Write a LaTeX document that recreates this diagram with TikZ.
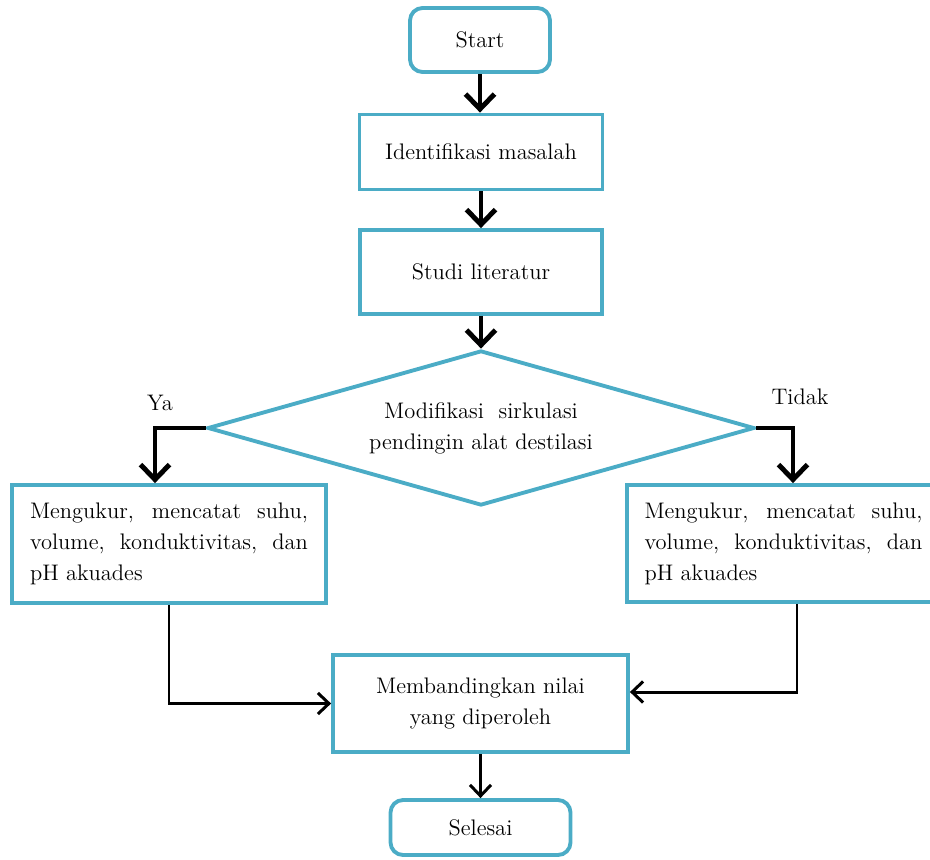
\documentclass[tikz,border=0pt]{standalone}
\usepackage{tikz}
\usetikzlibrary{positioning}
\usetikzlibrary{shapes.geometric}
\usetikzlibrary{arrows.meta}
\definecolor{boxblue}{RGB}{75,172,198}

\begin{document}
\begin{tikzpicture}[x=0.02cm, y=-0.02cm,
	every node/.style={font=\fontsize{12.8}{17.6}\selectfont},
	procbox/.style={rectangle, draw=boxblue, line width=2.2pt, fill=white, align=center},
	endbox/.style={procbox, rounded corners=0.25cm},
	bigarrow/.style={line width=2.8pt, -{Straight Barb[length=0.3cm, width=0.58cm]}},
	smallarrow/.style={line width=1.7pt, -{Straight Barb[length=0.22cm, width=0.42cm]}}]
	\useasboundingbox (0,0) rectangle (930,859);

	\node[endbox, minimum width=2.8cm, minimum height=1.28cm](start) at (480,40){Start};
	\node[procbox, minimum width=4.86cm, minimum height=1.5cm](ident) at (481,152){Identifikasi masalah};
	\node[procbox, minimum width=4.84cm, minimum height=1.68cm](studi) at (481,272){Studi literatur};
	\node[diamond, aspect=3.53, draw=boxblue, line width=2.2pt, inner sep=0pt, align=center, minimum width=10.94cm, minimum height=3.1cm](modif) at (481,428){Modifikasi~~sirkulasi\\pendingin alat destilasi};

	\node[procbox, align=justify, text width=5.56cm, minimum width=6.28cm, minimum height=2.36cm](ukurYa) at (169,544){Mengukur, mencatat suhu, volume, konduktivitas, dan pH akuades};
	\node[procbox, align=justify, text width=5.56cm, minimum width=6.26cm, minimum height=2.34cm](ukurTidak) at (783.5,543.5){Mengukur, mencatat suhu, volume, konduktivitas, dan pH akuades};

	\node[procbox, minimum width=5.9cm, minimum height=1.94cm](banding) at (480.5,703.5){Membandingkan nilai\\yang diperoleh};
	\node[endbox, minimum width=3.6cm, minimum height=1.1cm](selesai) at (480.5,827.5){Selesai};

	\node(ya) at (160,403){Ya};
	\node(tidak) at (800,397){Tidak};

	\draw[bigarrow] (start) -- (start |- ident.north);
	\draw[bigarrow] (ident) -- (studi);
	\draw[bigarrow] (studi) -- (modif);
	\draw[bigarrow] (modif.west) -| ([xshift=-0.28cm]ukurYa.north);
	\draw[bigarrow] (modif.east) -| ([xshift=0.19cm]ukurTidak.north);
	\draw[smallarrow] (ukurYa.south) |- (banding.west);
	\draw[smallarrow] ([xshift=0.27cm]ukurTidak.south) |- ([yshift=0.23cm]banding.east);
	\draw[smallarrow] (banding) -- (selesai);
\end{tikzpicture}
\end{document}
